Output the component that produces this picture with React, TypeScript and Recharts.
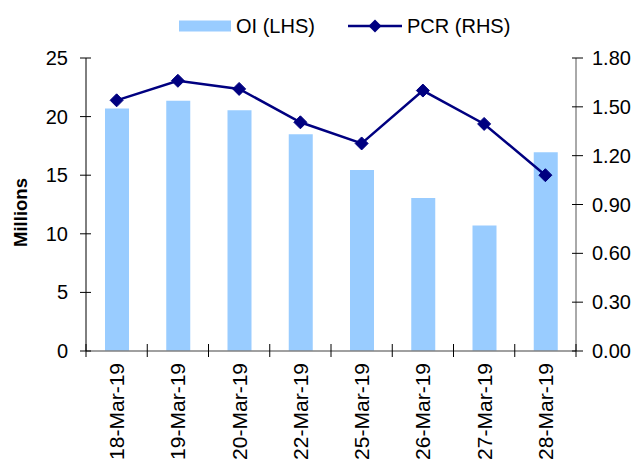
import React from 'react';
import { ComposedChart, Bar, Line, XAxis, YAxis } from 'recharts';

const categories = ['18-Mar-19', '19-Mar-19', '20-Mar-19', '22-Mar-19', '25-Mar-19', '26-Mar-19', '27-Mar-19', '28-Mar-19'];
const oiValues = [20.7, 21.35, 20.55, 18.5, 15.45, 13.05, 10.7, 16.95];
const pcrValues = [1.54, 1.66, 1.61, 1.405, 1.275, 1.6, 1.395, 1.08];
const leftTicks = [0, 5, 10, 15, 20, 25];
const rightTicks = [0, 0.3, 0.6, 0.9, 1.2, 1.5, 1.8];

const data = categories.map((c, i) => ({ date: c, oi: oiValues[i], pcr: pcrValues[i] }));

const W = 638;
const H = 460;
const LEFT_W = 86;
const RIGHT_W = 62;
const TOP = 58;
const XAXIS_H = 109;
const FONT = '"Liberation Sans", Arial, sans-serif';
const BAR_COLOR = '#99CCFF';
const LINE_COLOR = '#000080';
const HALF_BAND = (W - LEFT_W - RIGHT_W) / categories.length / 2;

const LeftTick = (props: any) => {
  const { x, y, payload } = props;
  const axisX = x + 18;
  return (
    <g>
      <line x1={axisX - 6} x2={axisX + 5} y1={y} y2={y} stroke="#000" strokeWidth={1} />
      <text x={x} y={y} textAnchor="end" dominantBaseline="central" fontSize={20} fontFamily={FONT} fill="#000">
        {payload.value}
      </text>
    </g>
  );
};

const RightTick = (props: any) => {
  const { x, y, payload } = props;
  const axisX = x - 16;
  return (
    <g>
      <line x1={axisX - 4} x2={axisX + 7} y1={y} y2={y} stroke="#000" strokeWidth={1} />
      <text x={x} y={y} textAnchor="start" dominantBaseline="central" fontSize={20} fontFamily={FONT} fill="#000">
        {Number(payload.value).toFixed(2)}
      </text>
    </g>
  );
};

const XTick = (props: any) => {
  const { x, y, payload, index } = props;
  const axisY = y - 12;
  const isLast = index === categories.length - 1;
  return (
    <g>
      <line x1={x - HALF_BAND} x2={x - HALF_BAND} y1={axisY - 7} y2={axisY + 6} stroke="#000" strokeWidth={1} />
      {isLast && (
        <line x1={x + HALF_BAND} x2={x + HALF_BAND} y1={axisY - 7} y2={axisY + 6} stroke="#000" strokeWidth={1} />
      )}
      <text
        x={x}
        y={y}
        transform={`rotate(-90, ${x}, ${y})`}
        textAnchor="end"
        dominantBaseline="central"
        fontSize={21}
        fontFamily={FONT}
        fill="#000"
      >
        {payload.value}
      </text>
    </g>
  );
};

const Diamond = (props: any) => {
  const { cx, cy } = props;
  if (cx == null || cy == null) return null;
  const r = 6.5;
  return <polygon points={`${cx},${cy - r} ${cx + r},${cy} ${cx},${cy + r} ${cx - r},${cy}`} fill={LINE_COLOR} stroke={LINE_COLOR} />;
};

const YLabel = (props: any) => {
  const vb = props.viewBox || {};
  const cx = 20;
  const cy = (vb.y || 0) + (vb.height || 0) / 2 + 8;
  return (
    <text
      x={cx}
      y={cy}
      transform={`rotate(-90, ${cx}, ${cy})`}
      textAnchor="middle"
      dominantBaseline="central"
      fontSize={18.5}
      fontWeight="bold"
      fontFamily={FONT}
      fill="#000"
    >
      Millions
    </text>
  );
};

const LegendBox = () => (
  <svg width={W} height={50} style={{ position: 'absolute', left: 0, top: 0 }}>
    <rect x={179} y={20.5} width={52} height={11} fill={BAR_COLOR} />
    <text x={236} y={26} dominantBaseline="central" fontSize={20} fontFamily={FONT} fill="#000">
      OI (LHS)
    </text>
    <line x1={348} x2={402} y1={26} y2={26} stroke={LINE_COLOR} strokeWidth={2.5} />
    <polygon points="375,19.5 381.5,26 375,32.5 368.5,26" fill={LINE_COLOR} />
    <text x={407} y={26} dominantBaseline="central" fontSize={20} fontFamily={FONT} fill="#000">
      PCR (RHS)
    </text>
  </svg>
);

export default function App() {
  return (
    <div style={{ position: 'absolute', left: 0, top: 0, width: W, height: H, background: '#fff' }}>
      <ComposedChart width={W} height={H} data={data} margin={{ top: TOP, right: 0, bottom: 0, left: 0 }}>
        <XAxis
          dataKey="date"
          height={XAXIS_H}
          interval={0}
          tickSize={6}
          tickMargin={6}
          tickLine={false}
          axisLine={{ stroke: '#808080', strokeWidth: 1.5 }}
          tick={<XTick />}
        />
        <YAxis
          yAxisId="left"
          orientation="left"
          width={LEFT_W}
          domain={[0, 25]}
          ticks={leftTicks}
          interval={0}
          tickSize={6}
          tickMargin={12}
          tickLine={false}
          axisLine={{ stroke: '#000', strokeWidth: 1 }}
          tick={<LeftTick />}
          label={<YLabel />}
        />
        <YAxis
          yAxisId="right"
          orientation="right"
          width={RIGHT_W}
          domain={[0, 1.8]}
          ticks={rightTicks}
          interval={0}
          tickSize={7}
          tickMargin={9}
          tickLine={false}
          axisLine={{ stroke: '#555', strokeWidth: 1 }}
          tick={<RightTick />}
        />
        <Bar yAxisId="left" dataKey="oi" fill={BAR_COLOR} barSize={24} isAnimationActive={false} />
        <Line
          yAxisId="right"
          dataKey="pcr"
          stroke={LINE_COLOR}
          strokeWidth={2.5}
          dot={<Diamond />}
          activeDot={false}
          isAnimationActive={false}
        />
      </ComposedChart>
      <LegendBox />
    </div>
  );
}
